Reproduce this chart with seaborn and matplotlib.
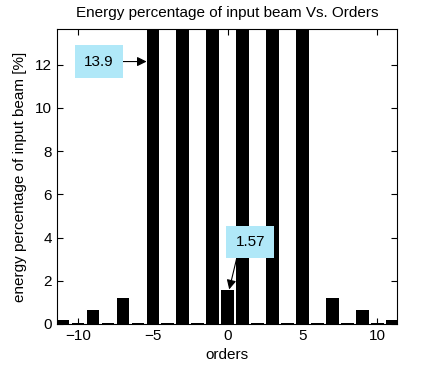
import matplotlib
matplotlib.use("Agg")
import matplotlib.pyplot as plt
import seaborn as sns
import pandas as pd

orders = list(range(-11, 12))
energy = [0.2, 0.04, 0.66, 0.04, 1.22, 0.04, 13.9, 0.04, 13.9, 0.04, 13.9, 1.57,
          13.9, 0.04, 13.9, 0.04, 13.9, 0.04, 1.22, 0.04, 0.66, 0.04, 0.2]
labels = ["13.9", "1.57"]

df = pd.DataFrame({"orders": orders, "energy": energy})

sns.set_style("ticks")
plt.rcParams['font.family'] = ['Liberation Sans', 'DejaVu Sans']
plt.rcParams['text.color'] = 'black'
plt.rcParams['axes.labelcolor'] = 'black'
plt.rcParams['xtick.color'] = 'black'
plt.rcParams['ytick.color'] = 'black'
plt.rcParams['axes.edgecolor'] = 'black'

fs = 11

fig = plt.figure(figsize=(4.39, 3.69), dpi=100)
ax = fig.add_axes([0.13, 0.122, 0.774, 0.799])

sns.barplot(data=df, x="orders", y="energy", native_scale=True, width=0.85,
            color="black", edgecolor="black", linewidth=0, saturation=1, ax=ax)

ax.set_xlim(-11.4, 11.3)
ax.set_ylim(0, 13.65)
ax.set_xticks([-10, -5, 0, 5, 10])
ax.set_yticks([0, 2, 4, 6, 8, 10, 12])
ax.tick_params(direction="in", top=True, right=True, labelsize=fs, length=4)
for s in ax.spines.values():
    s.set_visible(True)
    s.set_linewidth(0.8)

ax.set_title("Energy percentage of input beam Vs. Orders", fontsize=fs, pad=9)
ax.set_xlabel("orders", fontsize=fs, labelpad=4)
ax.set_ylabel("energy percentage of input beam [%]", fontsize=fs, labelpad=6)

box = dict(boxstyle="square,pad=0.6", fc="#b0e8f8", ec="none")
ax.annotate(labels[0], xy=(-5.42, 12.15), xytext=(-8.6, 12.15),
            fontsize=fs, ha="center", va="center", bbox=box,
            arrowprops=dict(arrowstyle="-|>", color="black", lw=0.8,
                            mutation_scale=14, shrinkA=0, shrinkB=0))
ax.annotate(labels[1], xy=(0.1, 1.6), xytext=(1.5, 3.8),
            fontsize=fs, ha="center", va="center", bbox=box,
            arrowprops=dict(arrowstyle="-|>", color="black", lw=0.8,
                            mutation_scale=14, shrinkA=0, shrinkB=0,
                            relpos=(0.12, 0)))

fig.savefig("out.png", dpi=100)
